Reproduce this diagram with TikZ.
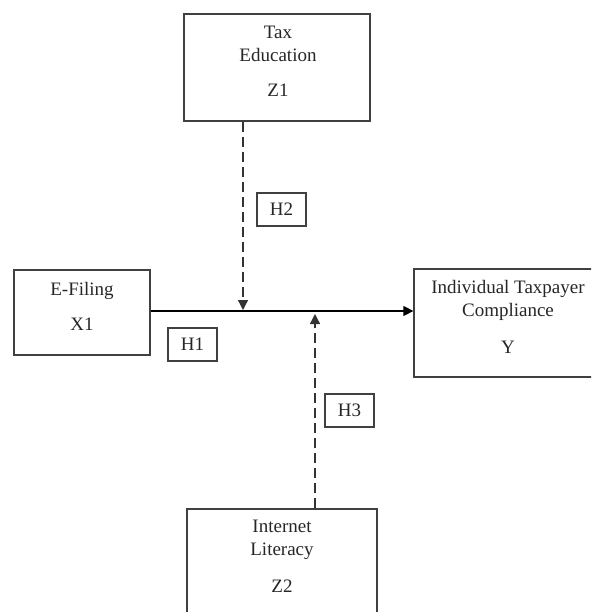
\documentclass[tikz,border=0pt]{standalone}
\usepackage{fontspec}
\setmainfont{Liberation Serif}
\usetikzlibrary{arrows.meta}

\tikzset{
    box/.style={draw=black!75, line width=1.3pt, inner sep=0pt},
    txt/.style={font=\fontsize{19}{23}\selectfont, text=black!85, align=center, anchor=north, inner sep=0pt},
    hyp/.style={draw=black!75, line width=1.1pt, minimum width=49pt, minimum height=33pt,
        inner sep=0pt, text=black!85, font=\fontsize{19}{23}\selectfont},
    mainline/.style={line width=1.3pt, -{Triangle[length=10pt,width=10pt]}},
    modline/.style={line width=1.3pt, black!80, dash pattern=on 10pt off 5pt,
        -{Triangle[length=10pt,width=10pt]}, shorten >=1pt}
}

\begin{document}
\begin{tikzpicture}[x=1pt, y=-1pt]

\useasboundingbox (0,0) rectangle (591,612);
\clip (0,0) rectangle (591,612);

% --- Boxes ---
\node[box, minimum width=186pt, minimum height=107pt] (tax) at (277,67.5) {};
\node[box, minimum width=136pt, minimum height=85pt] (efil) at (82,312.5) {};
\node[box, minimum width=188pt, minimum height=108pt] (comp) at (508,323) {};
\node[box, minimum width=190pt, minimum height=131pt] (lit) at (282,574.5) {};

% --- Box texts ---
\node[txt] (taxtxt) at (278,25.4) {Tax\\Education\\[12pt]Z1};
\node[txt] (efiltxt) at (82,282) {E-Filing\\[12pt]X1};
\node[txt] (comptxt) at (508,280) {Individual Taxpayer\\Compliance\\[14pt]Y};
\node[txt] (littxt) at (282,519.4) {Internet\\Literacy\\[14pt]Z2};

% --- Hypotheses ---
\node[hyp] (h1) at (192.5,344.5) {H1};
\node[hyp] (h2) at (281.5,209.5) {H2};
\node[hyp] (h3) at (349.5,410.5) {H3};

% --- Arrows ---
\coordinate (j1) at (243,311);
\coordinate (j2) at (315,313);
\draw[mainline] (efil.east |- j1) -- (comp.west |- j1);
\draw[modline] (tax.south -| j1) -- (j1);
\draw[modline] (lit.north -| j2) -- (j2);

\end{tikzpicture}
\end{document}
